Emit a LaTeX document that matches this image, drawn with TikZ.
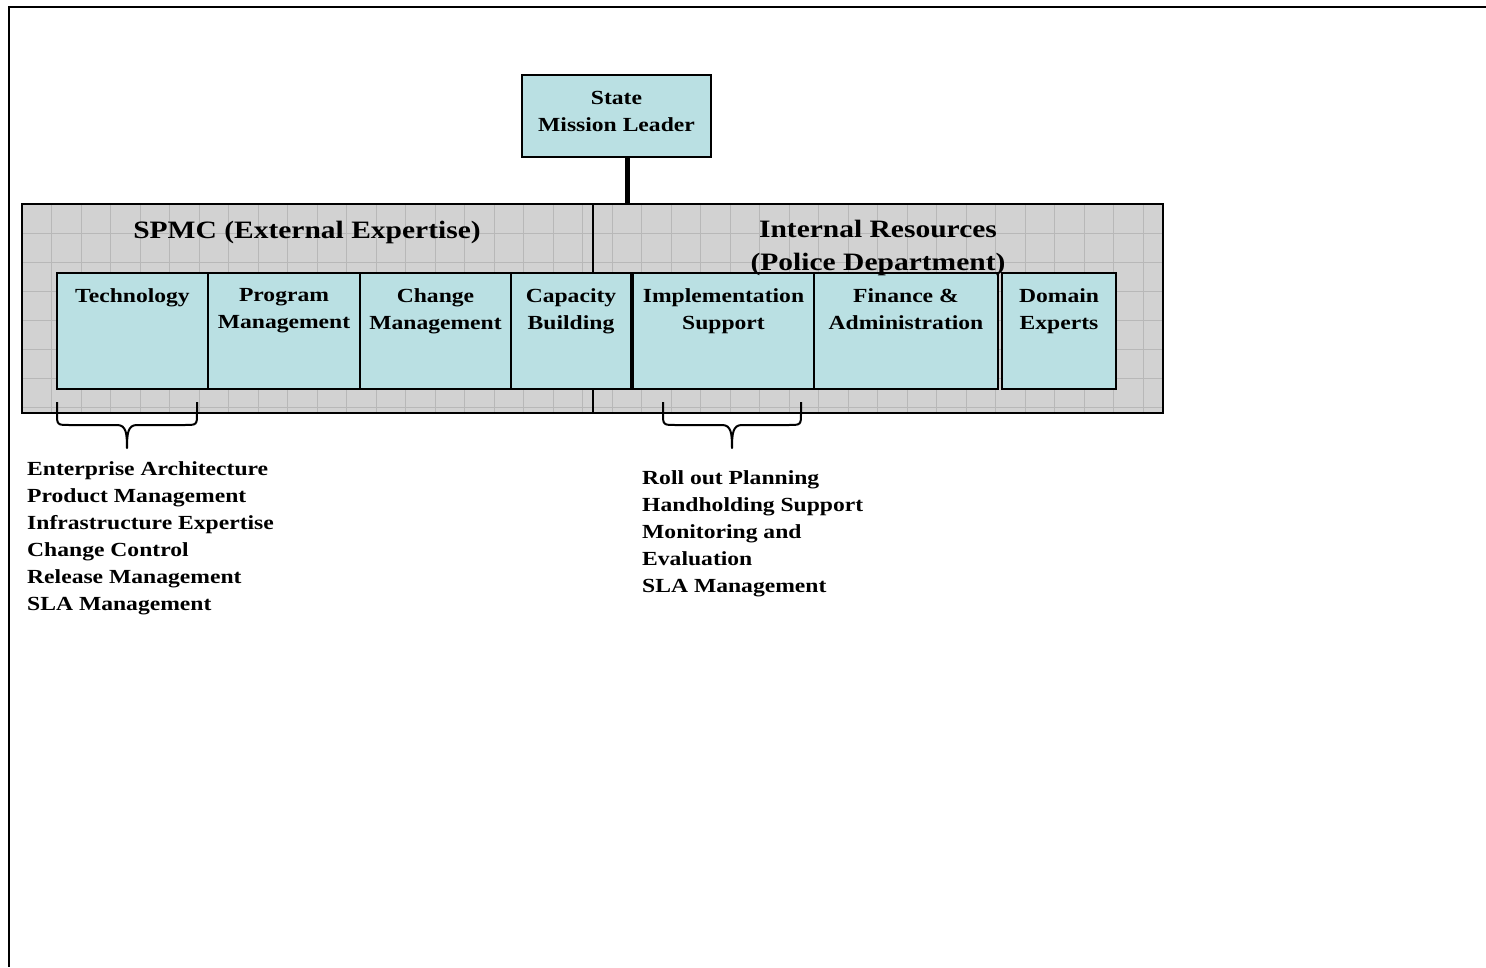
\documentclass[tikz,border=0pt]{standalone}
\usepackage{fontspec}
\setmainfont[FakeStretch=1.18]{Liberation Serif}
\usetikzlibrary{positioning}
\definecolor{unitfill}{RGB}{186,224,227}
\definecolor{grpfill}{RGB}{210,210,210}
\definecolor{gridgray}{RGB}{184,184,184}
\tikzset{
	unit/.style={draw=black,line width=2pt,fill=unitfill,minimum height=116,inner sep=0,outer sep=0,anchor=north west},
	unitlabel/.style={inner sep=0,anchor=north,align=center,font=\bfseries\fontsize{20}{27}\selectfont},
	grouptitle/.style={inner sep=0,align=center,font=\bfseries\fontsize{25}{33}\selectfont},
	listtext/.style={inner sep=0,anchor=north west,align=left,font=\bfseries\fontsize{20}{27}\selectfont},
	gridline/.style={draw=gridgray,line width=.7pt},
	curly/.style={line width=2pt,line join=round},
}
\begin{document}
\begin{tikzpicture}[x=1pt,y=-1pt]
	\useasboundingbox (0,0) rectangle (1486,967);
	% page frame
	\draw[line width=2.4pt] (1486,7) -- (9,7) -- (9,967);
	% leader
	\node[unit,minimum width=189,minimum height=82] (sml) at (522,75) {};
	\node[unitlabel,below=16pt of sml.north] (sml-t) {State\\Mission Leader};
	% the two groups
	\node[draw=black,line width=2pt,fill=grpfill,minimum width=1141,minimum height=209,inner sep=0,outer sep=0,anchor=north west] (grp) at (22,204) {};
	\foreach \gx in {51.5,81,...,1160}
		\draw[gridline] (\gx,205) -- (\gx,412);
	\foreach \gy in {233,262,...,410}
		\draw[gridline] (23,\gy) -- (1162,\gy);
	\draw[line width=2pt] (grp.north west) rectangle (grp.south east);
	\draw[line width=2pt] (593,204) -- (593,413);
	\draw[line width=5pt] ([xshift=10.5pt]sml.south) -- ([xshift=10.5pt]sml.south |- grp.north);
	\node[grouptitle] (spmc) at (307,232) {SPMC (External Expertise)};
	% units
	\foreach \n/\xa/\xb/\txt in {tech/57/208/Technology,prog/208/360/{Program\\Management},chg/360/511/{Change\\Management},cap/511/631/{Capacity\\Building},impl/633/814/{Implementation\\Support},fin/814/998/{Finance \&\\Administration},dom/1002/1116/{Domain\\Experts}}{
		\node[unit,minimum width=\xb-\xa] (\n) at (\xa,273) {};
		\node[unitlabel,below=15pt of \n.north] (\n-t) {\txt};
	}
	\node[grouptitle,anchor=north] (intres) at (878,220) {Internal Resources\\(Police Department)};
	% braces
	\foreach \bl/\bm/\br in {57/127/197,663/732/801}{
		\draw[curly] (\bl,402) -- (\bl,413) .. controls (\bl,425) .. (\bl+13,425) -- (\bm-10,425) .. controls (\bm-1,425) and (\bm,433) .. (\bm,448) .. controls (\bm,433) and (\bm+1,425) .. (\bm+10,425) -- (\br-13,425) .. controls (\br,425) .. (\br,413) -- (\br,402);
	}
	\node[listtext] (techlist) at (27,461) {Enterprise Architecture\\Product Management\\Infrastructure Expertise\\Change Control\\Release Management\\SLA Management};
	\node[listtext] (impllist) at (642,470) {Roll out Planning\\Handholding Support\\Monitoring and\\Evaluation\\SLA Management};
\end{tikzpicture}
\end{document}
